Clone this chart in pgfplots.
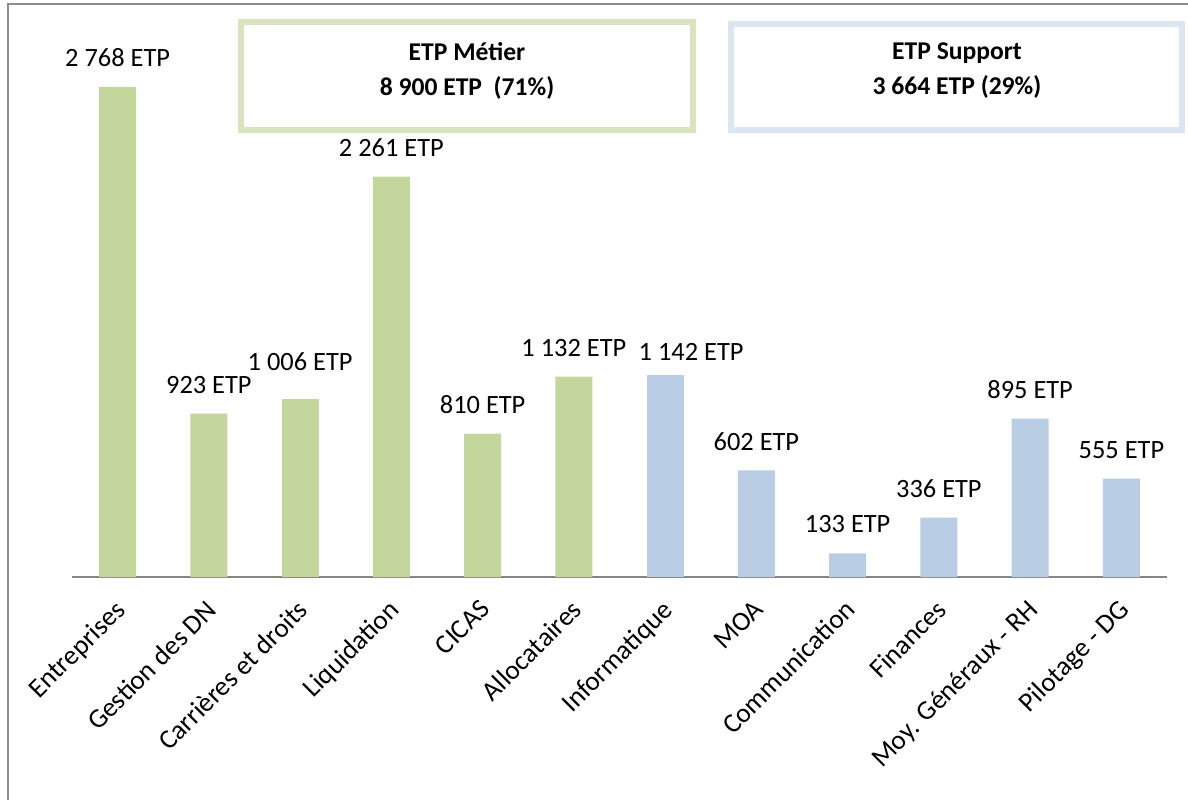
\documentclass[border=0pt]{standalone}
\usepackage{pgfplots}
\pgfplotsset{compat=1.18}
\usepackage{fontspec}
\setmainfont{Carlito}
\definecolor{barGreen}{HTML}{C3D69B}
\definecolor{barBlue}{HTML}{B9CDE5}
\definecolor{boxGreen}{HTML}{D7E4BD}
\definecolor{boxBlue}{HTML}{DCE6F2}
\definecolor{frameGray}{HTML}{8C8C8C}
\definecolor{axisGray}{HTML}{868686}
\begin{document}
\begin{tikzpicture}
\useasboundingbox (0,0) rectangle (594pt,400pt);
\draw[frameGray, line width=1.3pt] (4pt,0) -- (4pt,398pt) -- (600pt,398pt);
\begin{axis}[
  at={(36pt,111.5pt)}, anchor=south west,
  scale only axis, width=547.5pt, height=283.3pt,
  xmin=-0.5, xmax=11.5, ymin=0, ymax=3200,
  axis x line*=bottom, axis y line=none,
  x axis line style={draw=axisGray, line width=1pt, -},
  xtick={0,1,2,3,4,5,6,7,8,9,10,11},
  xticklabels={Entreprises, Gestion des DN, Carrières et droits, Liquidation, CICAS, Allocataires, Informatique, MOA, Communication, Finances, Moy. Généraux - RH, Pilotage - DG},
  major tick length=0pt,
  xticklabel style={xshift=-2pt, yshift=-9pt, rotate=45, anchor=north east, font=\fontsize{13.6}{16}\selectfont, inner sep=1pt},
  ybar, bar width=18.5pt,
  every axis plot/.append style={bar shift=0pt, draw=none},
  point meta=explicit symbolic,
  nodes near coords={\pgfplotspointmeta},
  every node near coord/.append style={font=\fontsize{13.2}{15}\selectfont, anchor=center, yshift=14.5pt, text=black},
  clip=false,
]
\addplot[fill=barGreen] coordinates {
  (0,2768) [2 768 ETP]
  (1,923) [923 ETP]
  (3,2261) [2 261 ETP]
  (4,810) [810 ETP]
  (5,1132) [1 132 ETP]
};
\addplot[fill=barGreen, every node near coord/.append style={yshift=4pt}] coordinates {
  (2,1006) [1 006 ETP]
};
\addplot[fill=barBlue, every node near coord/.append style={xshift=13pt, yshift=-3pt}] coordinates {
  (6,1142) [1 142 ETP]
};
\addplot[fill=barBlue] coordinates {
  (7,602) [602 ETP]
  (8,133) [133 ETP]
  (9,336) [336 ETP]
  (10,895) [895 ETP]
  (11,555) [555 ETP]
};
\end{axis}
\draw[boxGreen, line width=3pt, fill=white] (120.5pt,335pt) rectangle (346.5pt,389pt);
\draw[boxBlue, line width=3pt, fill=white] (365.5pt,335pt) rectangle (591pt,388pt);
\node[font=\bfseries\fontsize{12.8}{17.5}\selectfont, align=center] at (233.5pt,364.5pt) {ETP Métier\\8 900 ETP\ \ (71\%)};
\node[font=\bfseries\fontsize{12.8}{17.5}\selectfont, align=center] at (478.5pt,364.5pt) {ETP Support\\3 664 ETP (29\%)};
\end{tikzpicture}
\end{document}
